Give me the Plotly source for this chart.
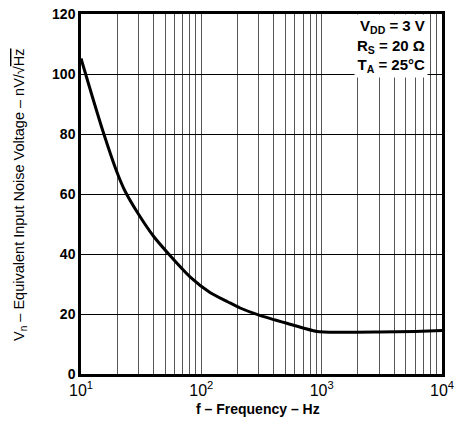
import plotly.graph_objects as go

freq_hz = [10, 12.2, 15.2, 19.8, 23.2, 29.9, 39.9, 54.9, 80.5, 118, 167, 210, 298, 513, 910, 1410, 3000, 6000, 10000]
noise_nv = [105.2, 93.5, 81.0, 67.5, 61.0, 53.4, 46.0, 39.5, 32.4, 27.2, 24.0, 22.0, 19.7, 16.9, 14.2, 13.9, 14.0, 14.2, 14.5]

x_tick_vals = [m * 10 ** d for d in range(1, 4) for m in range(1, 10)] + [10000]
x_tick_text = []
for v in x_tick_vals:
    s = str(int(v))
    x_tick_text.append("10<sup>%d</sup>" % (len(s) - 1) if s[0] == "1" and set(s[1:]) <= {"0"} else "")
y_tick_vals = [0, 20, 40, 60, 80, 100, 120]

font_family = "Liberation Sans, Arial, sans-serif"

fig = go.Figure()
fig.add_trace(go.Scatter(
    x=freq_hz, y=noise_nv, mode="lines",
    line=dict(color="black", width=3, shape="spline", smoothing=0.7),
    showlegend=False, hoverinfo="skip",
))

fig.update_xaxes(
    type="log", range=[1, 4], automargin=False,
    tickvals=x_tick_vals, ticktext=x_tick_text, ticks="",
    showgrid=True, gridcolor="#555555", gridwidth=1,
    showline=True, linecolor="black", linewidth=2.5, mirror=True,
    tickfont=dict(family=font_family, size=16, color="black"),
    zeroline=False,
)
fig.update_yaxes(
    range=[0, 120], tickvals=y_tick_vals, automargin=False,
    ticktext=["<b>%d</b>" % v for v in y_tick_vals], ticks="",
    showgrid=True, gridcolor="black", gridwidth=1,
    showline=True, linecolor="black", linewidth=2.5, mirror=True,
    tickfont=dict(family=font_family, size=14, color="black"),
    zeroline=False,
)

fig.add_annotation(
    xref="paper", yref="paper", x=-0.169, y=0.5, xanchor="center", yanchor="middle",
    textangle=-90, showarrow=False,
    text="V<sub>n</sub> – Equivalent Input Noise Voltage – nV/√<span style='text-decoration:overline'>Hz</span>",
    font=dict(family=font_family, size=14.5, color="black"),
)
fig.add_annotation(
    xref="paper", yref="paper", x=0.49, y=-0.097, xanchor="center", yanchor="middle",
    showarrow=False, text="<b>f – Frequency – Hz</b>",
    font=dict(family=font_family, size=14, color="black"),
)
fig.add_annotation(
    xref="paper", yref="paper", x=0.962, y=1.0, xanchor="right", yanchor="top",
    text="<b>V<sub>DD</sub> = 3 V<br>R<sub>S</sub> = 20 Ω<br>T<sub>A</sub> = 25°C</b>",
    showarrow=False, align="right", bgcolor="white", borderpad=2,
    font=dict(family=font_family, size=15, color="black"),
)

fig.update_layout(
    width=456, height=424,
    margin=dict(l=81, r=14, t=14, b=50),
    paper_bgcolor="white", plot_bgcolor="white",
)

fig.write_html("out.html", config={"displayModeBar": False},
               post_script="document.body.style.margin='0';")
